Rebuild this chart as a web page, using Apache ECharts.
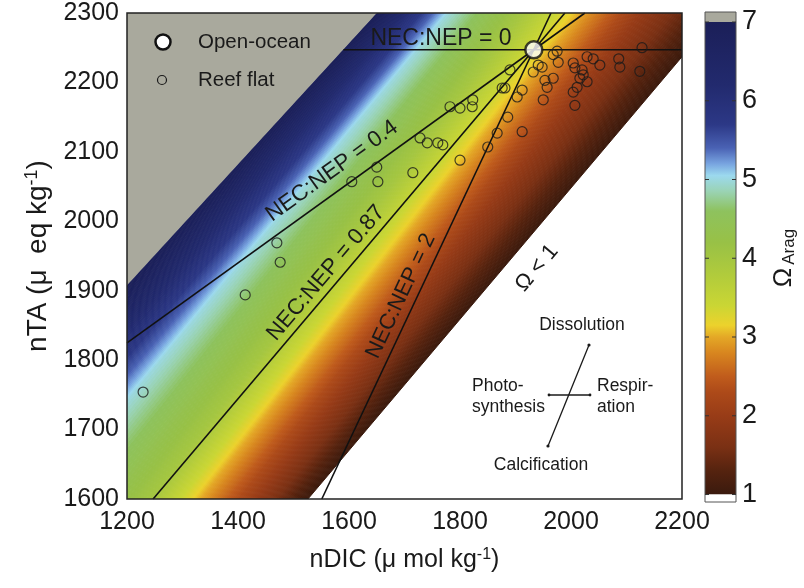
<!DOCTYPE html>
<html><head><meta charset="utf-8">
<script src="https://cdn.jsdelivr.net/npm/echarts@6/dist/echarts.min.js"></script>
<style>html,body{margin:0;padding:0;background:#fff}#c{width:804px;height:588px}</style>
</head><body><div id="c"></div>
<script>
// ---------- data ----------
const xTicks = [1200, 1400, 1600, 1800, 2000, 2200];
const yTicks = [1600, 1700, 1800, 1900, 2000, 2100, 2200, 2300];
const cbarTicks = [1, 2, 3, 4, 5, 6, 7];

const omegaLevels = [1, 2, 3, 4, 5, 6, 7];
const omegaLineA = [[1526, 1600], [1430, 1600], [1332, 1600], [1241, 1600], [1200, 1743], [1200, 1829], [1200, 1908]];
const omegaLineB = [[2200, 2237], [2124, 2300], [2016, 2300], [1908, 2300], [1777, 2300], [1710, 2300], [1650, 2300]];

// colour map of the colour bar (value -> colour)
const cmapValues = [1.0, 1.3, 1.6, 2.0, 2.3, 2.5, 2.8, 3.0, 3.15, 3.4, 3.8, 4.2, 4.6, 4.85, 5.05, 5.2, 5.4, 5.7, 6.2, 7.0];
const cmapColors = ['#3a1a0e', '#55230f', '#7a3014', '#983c17', '#ad4a19', '#c05c1c', '#d8861f', '#e4a826', '#ecd22c', '#cad634', '#b0cb3c', '#98c146', '#8ec25e', '#9ad3b4', '#9cd9ee', '#78a4e0', '#4a62b4', '#2c3886', '#222a6e', '#1b1f58'];

const openOcean = [[1933, 2247]];
const reefFlat = [
  [1229, 1754], [1413, 1894], [1470, 1969], [1476, 1941], [1605, 2057], [1650, 2078], [1652, 2057],
  [1715, 2070], [1728, 2120], [1741, 2113], [1760, 2113], [1769, 2110], [1800, 2088], [1782, 2165],
  [1800, 2163], [1822, 2165], [1823, 2175], [1850, 2107], [1867, 2127], [1886, 2150], [1912, 2129],
  [1876, 2192], [1881, 2192], [1903, 2179], [1912, 2189], [1890, 2218], [1932, 2215], [1941, 2225],
  [1948, 2222], [1953, 2203], [1968, 2206], [1957, 2193], [1950, 2175], [1975, 2245], [1968, 2240],
  [1977, 2229], [2004, 2228], [2007, 2221], [2020, 2218], [2022, 2211], [2029, 2201], [2016, 2206],
  [2011, 2193], [2004, 2186], [2007, 2167], [2029, 2237], [2040, 2234], [2052, 2225], [2086, 2234],
  [2088, 2222], [2124, 2216], [2128, 2250]
];

const necNepValues = ['0', '0.4', '0.87', '2'];
const necNepStart = [[1590, 2247], [1200, 1825], [1247, 1600], [1551, 1600]];
const necNepEnd = [[2200, 2247], [2025, 2300], [1989, 2300], [1964, 2300]];

// ---------- helpers ----------
const FONT = 'Liberation Sans, Arial, Helvetica, sans-serif';
function hex(c) { return [parseInt(c.substr(1, 2), 16), parseInt(c.substr(3, 2), 16), parseInt(c.substr(5, 2), 16)]; }
function cmap(v) {
  if (v <= cmapValues[0]) return cmapColors[0];
  for (let i = 0; i < cmapValues.length - 1; i++) {
    if (v <= cmapValues[i + 1]) {
      const t = (v - cmapValues[i]) / (cmapValues[i + 1] - cmapValues[i]);
      const a = hex(cmapColors[i]), b = hex(cmapColors[i + 1]);
      return 'rgb(' + a.map((x, j) => Math.round(x + (b[j] - x) * t)).join(',') + ')';
    }
  }
  return cmapColors[cmapColors.length - 1];
}
const TA_LO = 1550, TA_HI = 2350;
function isoAt(k, ta) {
  const a = omegaLineA[k], b = omegaLineB[k];
  const t = (ta - a[1]) / (b[1] - a[1]);
  return a[0] + t * (b[0] - a[0]);
}
function lerp(a, b, t) { return [a[0] + (b[0] - a[0]) * t, a[1] + (b[1] - a[1]) * t]; }

function bandRender(params, api) {
  const k = api.value(0);
  const lo0 = api.coord([isoAt(k, TA_LO), TA_LO]), lo1 = api.coord([isoAt(k, TA_HI), TA_HI]);
  const hi0 = api.coord([isoAt(k + 1, TA_LO), TA_LO]), hi1 = api.coord([isoAt(k + 1, TA_HI), TA_HI]);
  const N = 28, children = [];
  for (let j = 0; j < N; j++) {
    const t0 = j / N, t1 = (j + 1) / N;
    const pts = [lerp(lo0, hi0, t0), lerp(lo1, hi1, t0), lerp(lo1, hi1, t1), lerp(lo0, hi0, t1)];
    const v = omegaLevels[k] + (t0 + t1) / 2 * (omegaLevels[k + 1] - omegaLevels[k]);
    const c = cmap(v);
    children.push({ type: 'polygon', shape: { points: pts }, style: { fill: c, stroke: c, lineWidth: 1 } });
  }
  const cs = params.coordSys;
  return { type: 'group', children, clipPath: { type: 'rect', shape: { x: cs.x, y: cs.y, width: cs.width, height: cs.height } } };
}
function grayRender(params, api) {
  const k = omegaLevels.length - 1;
  const p0 = api.coord([isoAt(k, TA_LO), TA_LO]), p1 = api.coord([isoAt(k, TA_HI), TA_HI]);
  const p2 = api.coord([800, TA_HI]), p3 = api.coord([800, TA_LO]);
  const cs = params.coordSys;
  return { type: 'polygon', shape: { points: [p0, p1, p2, p3] }, style: { fill: '#a9a99d' },
    clipPath: { type: 'rect', shape: { x: cs.x, y: cs.y, width: cs.width, height: cs.height } } };
}
function cbarRender(params, api) {
  const L = api.coord([0, 7])[0], R = api.coord([1, 7])[0];
  const y7 = api.coord([0, 7])[1], y1 = api.coord([0, 1])[1];
  const cs = params.coordSys;
  const top = cs.y, bot = cs.y + cs.height;
  const stops = cmapValues.map((v, i) => ({ offset: (7 - v) / 6, color: cmapColors[i] })).reverse();
  const children = [
    { type: 'rect', shape: { x: L, y: top, width: R - L, height: y7 - top }, style: { fill: '#a9a99d' } },
    { type: 'rect', shape: { x: L, y: y7, width: R - L, height: y1 - y7 },
      style: { fill: new echarts.graphic.LinearGradient(0, 0, 0, 1, stops) } },
    { type: 'rect', shape: { x: L, y: y1, width: R - L, height: bot - y1 }, style: { fill: '#fff' } },
    { type: 'rect', shape: { x: L, y: top, width: R - L, height: bot - top }, style: { fill: 'none', stroke: '#555', lineWidth: 1 } }
  ];
  cbarTicks.forEach(v => {
    const y = api.coord([0, v])[1];
    children.push({ type: 'line', shape: { x1: L, y1: y, x2: L + 4, y2: y }, style: { stroke: '#333', lineWidth: 1 } });
    children.push({ type: 'line', shape: { x1: R - 4, y1: y, x2: R, y2: y }, style: { stroke: '#333', lineWidth: 1 } });
  });
  return { type: 'group', children };
}

// ---------- chart ----------
const chart = echarts.init(document.getElementById('c'), null, { renderer: 'canvas' });
const lineSeries = necNepValues.map((v, i) => ({
  type: 'line', name: 'NEC:NEP = ' + v, xAxisIndex: 0, yAxisIndex: 0,
  data: [necNepStart[i], necNepEnd[i]], symbol: 'none', silent: true, z: 5,
  lineStyle: { color: '#111', width: 1.6 }, clip: true
}));

const textStyle = (s, rot, x, y, size) => ({
  type: 'text', x, y, rotation: rot * Math.PI / 180, z: 50,
  style: { text: s, fill: '#1a1a1a', font: size + 'px ' + FONT, textAlign: 'center', textVerticalAlign: 'middle' }
});
const plain = v => String(v);

chart.setOption({
  backgroundColor: '#fff',
  animation: false,
  grid: [
    { left: 127, top: 13, width: 555, height: 486, show: true, borderColor: '#222', borderWidth: 1.5, backgroundColor: 'transparent', z: 10 },
    { left: 705, top: 12, width: 31, height: 490 }
  ],
  xAxis: [
    { type: 'value', gridIndex: 0, min: 1200, max: 2200, interval: 200,
      axisLine: { show: false }, axisTick: { show: false }, splitLine: { show: false },
      axisLabel: { fontSize: 25, color: '#1a1a1a', fontFamily: FONT, margin: 11, formatter: plain, customValues: xTicks },
      name: 'nDIC (\u03bc mol kg{sup|-1})', nameLocation: 'middle', nameGap: 48,
      nameTextStyle: { fontSize: 25, color: '#1a1a1a', fontFamily: FONT,
        rich: { sup: { fontSize: 16, verticalAlign: 'top', fontFamily: FONT, color: '#1a1a1a', padding: [0, 0, 11, 0] } } } },
    { type: 'value', gridIndex: 1, min: 0, max: 1, show: false }
  ],
  yAxis: [
    { type: 'value', gridIndex: 0, min: 1600, max: 2300, interval: 100,
      axisLine: { show: false }, axisTick: { show: false }, splitLine: { show: false },
      axisLabel: { fontSize: 25, color: '#1a1a1a', fontFamily: FONT, margin: 8, formatter: plain, customValues: yTicks },
      name: 'nTA (\u03bc  eq kg{sup|-1})', nameLocation: 'middle', nameGap: 73, nameRotate: 90,
      nameTextStyle: { fontSize: 28, color: '#1a1a1a', fontFamily: FONT,
        rich: { sup: { fontSize: 18, verticalAlign: 'top', fontFamily: FONT, color: '#1a1a1a', padding: [0, 0, 12, 0] } } } },
    { type: 'value', gridIndex: 1, min: 0.905, max: 7.127, position: 'right',
      axisLine: { show: false }, splitLine: { show: false },
      axisTick: { show: false },
      axisLabel: { customValues: cbarTicks, fontSize: 27, color: '#1a1a1a', fontFamily: FONT, margin: 6 } }
  ],
  series: [
    { type: 'custom', name: 'omegaBands', xAxisIndex: 0, yAxisIndex: 0, silent: true, z: 1,
      renderItem: bandRender, data: omegaLevels.slice(0, -1).map((v, i) => [i]) },
    { type: 'custom', name: 'omegaAbove', xAxisIndex: 0, yAxisIndex: 0, silent: true, z: 1,
      renderItem: grayRender, data: [[7]] },
    ...lineSeries,
    { type: 'scatter', name: 'Reef flat', data: reefFlat, symbol: 'circle', symbolSize: 10, z: 6,
      itemStyle: { color: 'rgba(0,0,0,0)', borderColor: '#1a1a1a', borderWidth: 1.2 } },
    { type: 'scatter', name: 'Open-ocean', data: openOcean, symbol: 'circle', symbolSize: 17, z: 7,
      itemStyle: { color: '#fff', borderColor: '#111', borderWidth: 2.5 } },
    { type: 'custom', name: 'colorbar', xAxisIndex: 1, yAxisIndex: 1, silent: true,
      renderItem: cbarRender, data: [[0.5, 4]] }
  ],
  graphic: [
    // legend
    { type: 'circle', shape: { cx: 163, cy: 42, r: 7.5 }, style: { fill: '#fff', stroke: '#111', lineWidth: 2.5 }, z: 50 },
    { type: 'circle', shape: { cx: 162, cy: 80, r: 4.5 }, style: { fill: 'none', stroke: '#1a1a1a', lineWidth: 1.2 }, z: 50 },
    { type: 'text', x: 198, y: 42, z: 50, style: { text: 'Open-ocean', fill: '#1a1a1a', font: '20.5px ' + FONT, textVerticalAlign: 'middle' } },
    { type: 'text', x: 198, y: 80, z: 50, style: { text: 'Reef flat', fill: '#1a1a1a', font: '20.5px ' + FONT, textVerticalAlign: 'middle' } },
    // line labels
    textStyle('NEC:NEP = 0', 0, 441, 39, 23),
    textStyle('NEC:NEP = 0.4', 35.8, 332, 171, 22.5),
    textStyle('NEC:NEP = 0.87', 49.7, 326, 273, 22.5),
    textStyle('NEC:NEP = 2', 64.7, 401, 296, 22),
    textStyle('\u03a9 < 1', 50, 537, 268, 22),
    // inset
    textStyle('Dissolution', 0, 582, 325, 17.5),
    textStyle('Calcification', 0, 541, 465, 17.5),
    { type: 'text', x: 472, y: 386, z: 50, style: { text: 'Photo-', fill: '#1a1a1a', font: '17.5px ' + FONT, textVerticalAlign: 'middle' } },
    { type: 'text', x: 472, y: 407, z: 50, style: { text: 'synthesis', fill: '#1a1a1a', font: '17.5px ' + FONT, textVerticalAlign: 'middle' } },
    { type: 'text', x: 597, y: 386, z: 50, style: { text: 'Respir-', fill: '#1a1a1a', font: '17.5px ' + FONT, textVerticalAlign: 'middle' } },
    { type: 'text', x: 597, y: 407, z: 50, style: { text: 'ation', fill: '#1a1a1a', font: '17.5px ' + FONT, textVerticalAlign: 'middle' } },
    { type: 'line', shape: { x1: 589, y1: 345, x2: 548, y2: 446 }, style: { stroke: '#1a1a1a', lineWidth: 1.3 }, z: 50 },
    { type: 'line', shape: { x1: 549, y1: 395, x2: 590, y2: 395 }, style: { stroke: '#1a1a1a', lineWidth: 1.3 }, z: 50 },
    { type: 'circle', shape: { cx: 589, cy: 345, r: 1.6 }, style: { fill: '#1a1a1a' }, z: 50 },
    { type: 'circle', shape: { cx: 548, cy: 446, r: 1.6 }, style: { fill: '#1a1a1a' }, z: 50 },
    { type: 'circle', shape: { cx: 549, cy: 395, r: 1.4 }, style: { fill: '#1a1a1a' }, z: 50 },
    { type: 'circle', shape: { cx: 590, cy: 395, r: 1.4 }, style: { fill: '#1a1a1a' }, z: 50 },
    // colour bar title
    { type: 'text', x: 784, y: 258, rotation: Math.PI / 2, z: 50,
      style: { text: '{o|\u03a9}{s|Arag}', textAlign: 'center', textVerticalAlign: 'middle',
        rich: { o: { fontSize: 26, fontFamily: FONT, fill: '#1a1a1a', padding: [0, 3, 0, 0] },
                s: { fontSize: 17, fontFamily: FONT, fill: '#1a1a1a', verticalAlign: 'bottom', padding: [11, 0, 0, 0] } } } }
  ]
});
</script>
</body></html>
